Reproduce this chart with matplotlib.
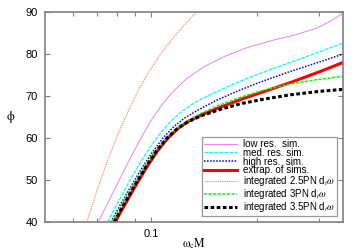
import numpy as np
import matplotlib
matplotlib.use("Agg")
import matplotlib.pyplot as plt
from matplotlib.ticker import FixedLocator, NullFormatter, FixedFormatter

# === DATA ===
x_low = [0.0708, 0.0759, 0.0813, 0.0871, 0.0933, 0.1000, 0.1072, 0.1148, 0.1259,
         0.1413, 0.1622, 0.1862, 0.2239, 0.2571, 0.2951, 0.3236, 0.3500]
y_low = [40, 45.1, 50.1, 55.1, 59.8, 64.2, 67.9, 70.9, 74.1,
         77.0, 79.5, 81.5, 83.4, 84.6, 86.2, 87.9, 89.7]

x_med = [0.0753, 0.0807, 0.0865, 0.0926, 0.0993, 0.1064, 0.1140, 0.1221, 0.1339,
         0.1503, 0.1725, 0.1981, 0.2381, 0.2863, 0.3498]
y_med = [40, 44.8, 49.5, 53.8, 57.8, 61.2, 64.1, 66.3, 68.6,
         70.7, 73.0, 75.0, 77.5, 79.9, 82.6]

x_high = [0.0768, 0.0823, 0.0882, 0.0945, 0.1013, 0.1085, 0.1162, 0.1246, 0.1366,
          0.1532, 0.1759, 0.2020, 0.2429, 0.2920, 0.3500]
y_high = [40, 44.5, 48.9, 53.1, 56.9, 60.2, 62.8, 64.8, 66.8,
          69.0, 71.2, 73.2, 75.6, 77.8, 80.0]

x_extrap = [0.0790, 0.0847, 0.0907, 0.0972, 0.1041, 0.1116, 0.1196, 0.1281, 0.1405,
            0.1576, 0.1810, 0.2078, 0.2498, 0.3004, 0.3500]
y_extrap = [40, 44.5, 48.9, 53.1, 56.9, 60.0, 62.4, 64.1, 65.7,
            67.4, 69.3, 71.0, 73.3, 75.8, 78.0]

x_pn25 = [0.0657, 0.0704, 0.0754, 0.0808, 0.0866, 0.0928, 0.0994, 0.1066, 0.1168,
          0.1311, 0.1505]
y_pn25 = [40, 47.8, 54.9, 61.2, 66.9, 72.0, 76.3, 80.1, 84.4, 89.1, 94.2]

x_pn3 = [0.0775, 0.0830, 0.0890, 0.0954, 0.1022, 0.1095, 0.1173, 0.1257, 0.1378,
         0.1546, 0.1775, 0.2038, 0.2451, 0.2946, 0.3500]
y_pn3 = [40, 44.5, 48.9, 53.0, 56.7, 59.7, 62.1, 63.9, 65.8,
         67.7, 69.6, 71.2, 72.8, 73.9, 74.7]

x_pn35 = [0.0785, 0.0841, 0.0901, 0.0966, 0.1035, 0.1109, 0.1188, 0.1273, 0.1396,
          0.1566, 0.1798, 0.2065, 0.2482, 0.2985, 0.3500]
y_pn35 = [40, 44.5, 48.9, 53.1, 56.9, 60.0, 62.3, 63.9, 65.4,
          66.8, 68.2, 69.2, 70.3, 71.1, 71.6]

x_ticks_minor = [0.06, 0.07, 0.08, 0.09, 0.2, 0.3]
y_ticks = [40, 50, 60, 70, 80, 90]

# === STYLE ===
plt.rcParams['font.family'] = ['Liberation Sans', 'DejaVu Sans']
plt.rcParams['mathtext.fontset'] = 'stix'

fig = plt.figure(figsize=(3.6, 2.52), dpi=100)
ax = fig.add_axes([0.125, 0.119, 0.828, 0.833])

ax.plot(x_low, y_low, color='violet', lw=0.7, label='low res.  sim.')
ax.plot(x_med, y_med, color='cyan', lw=0.9, ls=(0, (3, 1)), label='med. res. sim.')
ax.plot(x_high, y_high, color='blue', lw=1.1, ls=(0, (1, 1)), label='high res.  sim.')
ax.plot(x_extrap, y_extrap, color='red', lw=2.2, label='extrap. of sims.')
ax.plot(x_pn25, y_pn25, color='coral', lw=0.8, ls=(0, (1, 1)),
        label=r'integrated 2.5PN d$_t\omega$')
ax.plot(x_pn3, y_pn3, color='lime', lw=1.1, ls=(0, (2, 1)),
        label=r'integrated 3PN d$_t\omega$')
ax.plot(x_pn35, y_pn35, color='black', lw=2.2, ls=(0, (1.2, 0.8)),
        label=r'integrated 3.5PN d$_t\omega$')

ax.set_xscale('log')
ax.set_xlim(0.05, 0.35)
ax.set_ylim(40, 90)
ax.xaxis.set_major_locator(FixedLocator([0.1]))
ax.xaxis.set_major_formatter(FixedFormatter(['0.1']))
ax.xaxis.set_minor_locator(FixedLocator(x_ticks_minor))
ax.xaxis.set_minor_formatter(NullFormatter())
ax.set_yticks(y_ticks)

for s in ax.spines.values():
    s.set_color('#808080')
    s.set_linewidth(1.2)
ax.tick_params(which='both', direction='in', top=True, right=True,
               color='#808080', labelsize=8, width=0.8)
ax.tick_params(which='major', length=3.5, pad=5)
ax.tick_params(which='minor', length=3)

ax.set_xlabel(r'$\mathrm{\omega_c M}$', fontsize=8.5, labelpad=-2)
ax.set_ylabel(r'$\mathrm{\phi}$', fontsize=9, rotation=0, labelpad=11, va='center')

leg = ax.legend(loc='lower right', bbox_to_anchor=(0.979, 0.029), borderaxespad=0,
                fontsize=7, frameon=True, fancybox=False, handlelength=3.4,
                handletextpad=0.6, labelspacing=-0.12, borderpad=0.2)
leg.get_frame().set_edgecolor('#808080')
leg.get_frame().set_linewidth(0.9)

fig.savefig('out.png', dpi=100)
